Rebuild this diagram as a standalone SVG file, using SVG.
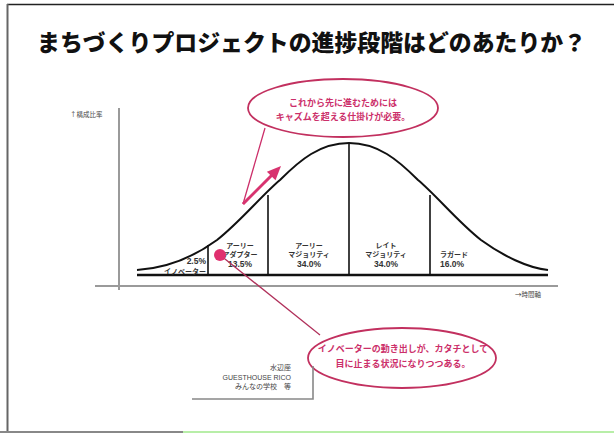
<svg xmlns="http://www.w3.org/2000/svg" width="614" height="433" viewBox="0 0 614 433">
<style>
.title{font-family:"Noto Sans CJK JP","Noto Sans CJK SC",sans-serif;font-weight:900;font-size:23px;fill:#111}
.lbl{font-family:"Noto Sans CJK JP",sans-serif;font-weight:bold;font-size:7px;fill:#333}
.num{font-family:"Liberation Sans",Arial,sans-serif;font-weight:bold;font-size:8.5px;fill:#333}
.ax{font-family:"Noto Sans CJK JP",sans-serif;font-size:6.5px;fill:#444}
.note{font-family:"Liberation Sans","Noto Sans CJK JP",sans-serif;font-size:7px;fill:#444}
.pink{font-family:"Noto Sans CJK JP",sans-serif;font-weight:bold;font-size:9px;fill:#cc2f6a}
.callout{fill:#fff;stroke:#c2305f;stroke-width:1.8}
.curve{fill:none;stroke:#111;stroke-width:2}
.div{stroke:#111;stroke-width:1.6}
.axis{stroke:#9a9a9a;stroke-width:2;fill:none}
</style>
<rect x="0" y="0" width="614" height="433" fill="#fff"/>
<!-- frame -->
<line x1="7" y1="4.5" x2="614" y2="4.5" stroke="#222" stroke-width="1.5"/>
<line x1="7.5" y1="4" x2="7.5" y2="433" stroke="#666" stroke-width="2"/>
<line x1="0" y1="432" x2="183" y2="432" stroke="#888" stroke-width="2"/>
<line x1="183" y1="432" x2="614" y2="432" stroke="#b8eea8" stroke-width="2"/>

<text class="title" x="37" y="51" textLength="549" lengthAdjust="spacingAndGlyphs">まちづくりプロジェクトの進捗段階はどのあたりか？</text>

<g id="axes">
<line class="axis" x1="119" y1="108" x2="119" y2="290"/>
<line class="axis" x1="95" y1="286" x2="558" y2="286"/>
<text class="ax" x="70" y="117">↑構成比率</text>
<text class="ax" x="515" y="297">→時間軸</text>
</g>

<g id="bell-curve">
<line x1="137" y1="275" x2="548" y2="275" stroke="#111" stroke-width="2.5"/>
<path class="curve" d="M137,270 C170,268 195,256 217,240 C240,222 262,195 280,180 C300,160 320,143 349,143 C378,143 398,160 418,180 C436,195 458,222 481,240 C503,256 528,268 548,270"/>
<line class="div" x1="208" y1="245" x2="208" y2="275"/>
<line class="div" x1="268" y1="195" x2="268" y2="275"/>
<line class="div" x1="349" y1="143" x2="349" y2="275"/>
<line class="div" x1="430" y1="195" x2="430" y2="275"/>
</g>

<g id="innovators">
<text class="num" x="206" y="264" text-anchor="end">2.5%</text>
<text class="lbl" x="206" y="274" text-anchor="end">イノベーター</text>
</g>
<g id="early-adopters">
<text class="lbl" x="240" y="248" text-anchor="middle">アーリー</text>
<text class="lbl" x="240" y="256.5" text-anchor="middle">アダプター</text>
<text class="num" x="240" y="266.5" text-anchor="middle">13.5%</text>
</g>
<g id="early-majority">
<text class="lbl" x="309" y="248" text-anchor="middle">アーリー</text>
<text class="lbl" x="309" y="256.5" text-anchor="middle">マジョリティ</text>
<text class="num" x="309" y="267" text-anchor="middle">34.0%</text>
</g>
<g id="late-majority">
<text class="lbl" x="386" y="248" text-anchor="middle">レイト</text>
<text class="lbl" x="386" y="256.5" text-anchor="middle">マジョリティ</text>
<text class="num" x="386" y="267" text-anchor="middle">34.0%</text>
</g>
<g id="laggards">
<text class="lbl" x="440" y="256.5">ラガード</text>
<text class="num" x="440" y="267">16.0%</text>
</g>

<g id="connectors">
<polyline points="265,128 243,204 272,175" fill="none" stroke="#cc2f6a" stroke-width="1.3"/>
<line x1="243" y1="204" x2="272" y2="175" stroke="#d8336f" stroke-width="3"/>
<polygon points="281,166 275.5,180.2 266.9,171.8" fill="#d8336f"/>
<line x1="220" y1="255" x2="320" y2="335" stroke="#b0305a" stroke-width="1.3"/>
</g>

<g id="chasm-callout">
<ellipse class="callout" cx="343" cy="108" rx="95" ry="29"/>
<text class="pink" x="343" y="106" text-anchor="middle">これから先に進むためには</text>
<text class="pink" x="343" y="120" text-anchor="middle">キャズムを超える仕掛けが必要。</text>
</g>

<g id="innovator-dot">
<circle cx="220" cy="255" r="6" fill="#e0306f"/>
</g>

<g id="innovator-callout">
<ellipse class="callout" cx="402" cy="358" rx="94" ry="30"/>
<text class="pink" x="403" y="352" text-anchor="middle">イノベーターの動き出しが、カタチとして</text>
<text class="pink" x="403" y="367" text-anchor="middle">目に止まる状況になりつつある。</text>
</g>

<g id="examples">
<text class="note" x="291" y="370" text-anchor="end">水辺座</text>
<text class="note" x="291" y="379.5" text-anchor="end">GUESTHOUSE RICO</text>
<text class="note" x="291" y="389" text-anchor="end">みんなの学校　等</text>
<polyline points="313,366 313,399 192,399" fill="none" stroke="#888" stroke-width="1.6"/>
</g>
</svg>
